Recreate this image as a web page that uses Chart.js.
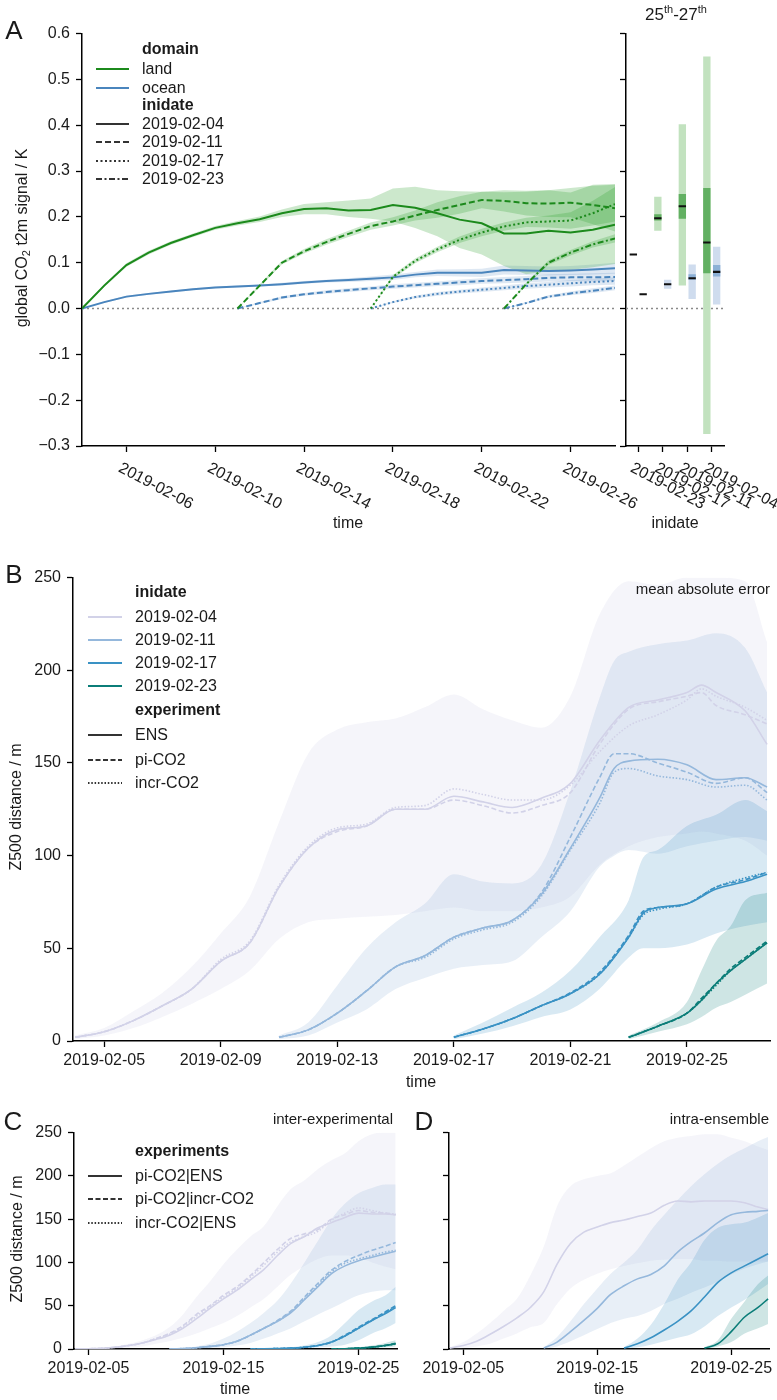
<!DOCTYPE html>
<html lang="en">
<head>
<meta charset="UTF-8">
<title>CO2 t2m signal and Z500 distance</title>
<script src="https://cdn.jsdelivr.net/npm/chart.js"></script>
<style>
    body { margin: 0; background: #fff; font-family: "Liberation Sans", Arial, sans-serif; color: #1a1a1a; }
    #page { position: relative; width: 777px; height: 1400px; overflow: hidden; }
    canvas { position: absolute; }
    .t { position: absolute; line-height: 1; white-space: nowrap; font-size: 16px; transform: translate(-50%, -50%); }
    .l { transform: translate(0, -50%); }
    .r { transform: translate(-100%, -50%); }
    .v { transform: translate(-50%, -50%) rotate(-90deg); }
    .big { font-size: 26px; }
    .small { font-size: 15px; }
    sup { font-size: 11px; vertical-align: 7px; line-height: 0; }
    sub { font-size: 11px; vertical-align: -3px; line-height: 0; }
    #legendLines { position: absolute; left: 0; top: 0; z-index: 2; }
    .t { z-index: 3; }
</style>
</head>
<body>
<div id="page">
    <canvas id="cA1" style="left:0;top:18px" width="777" height="540"></canvas>
    <canvas id="cA2" style="left:600px;top:18px" width="177" height="540"></canvas>
    <canvas id="cB" style="left:0;top:562px" width="777" height="506"></canvas>
    <canvas id="cC" style="left:0;top:1117px" width="405" height="259"></canvas>
    <canvas id="cD" style="left:400px;top:1117px" width="377" height="259"></canvas>
    <svg id="legendLines" width="777" height="1400"></svg>

    <!-- panel letters, titles and axis titles -->
    <div class="t big" style="left:14px;top:30px">A</div>
    <div class="t big" style="left:14px;top:574px">B</div>
    <div class="t big" style="left:13px;top:1121px">C</div>
    <div class="t big" style="left:424px;top:1121px">D</div>

    <div class="t" style="left:676px;top:14px;font-size:17px">25<sup>th</sup>-27<sup>th</sup></div>
    <div class="t v" style="left:22px;top:238px">global CO<sub>2</sub> t2m signal / K</div>
    <div class="t" style="left:348px;top:523px">time</div>
    <div class="t" style="left:675px;top:523px">inidate</div>

    <div class="t r small" style="left:770px;top:588px">mean absolute error</div>
    <div class="t v" style="left:16px;top:807px">Z500 distance / m</div>
    <div class="t" style="left:421px;top:1082px">time</div>

    <div class="t r small" style="left:393px;top:1118px">inter-experimental</div>
    <div class="t r small" style="left:769px;top:1118px">intra-ensemble</div>
    <div class="t v" style="left:17px;top:1239px">Z500 distance / m</div>
    <div class="t" style="left:235px;top:1389px">time</div>
    <div class="t" style="left:609px;top:1389px">time</div>
</div>

<script>
// ---------- panel A: global CO2 t2m signal (K), daily, day of Feb 2019 ----------
const inidates = ['2019-02-04', '2019-02-11', '2019-02-17', '2019-02-23'];
const yTicksA = [-0.3, -0.2, -0.1, 0.0, 0.1, 0.2, 0.3, 0.4, 0.5, 0.6];
const xTicksA = [6, 10, 14, 18, 22, 26];

const daysA04 = [4, 5, 6, 7, 8, 9, 10, 11, 12, 13, 14, 15, 16, 17, 18, 19, 20, 21, 22, 23, 24, 25, 26, 27, 28];
const landA04 = [0, 0.050, 0.095, 0.122, 0.143, 0.160, 0.176, 0.186, 0.195, 0.208, 0.217, 0.219, 0.214, 0.215, 0.226, 0.220, 0.208, 0.194, 0.186, 0.164, 0.164, 0.170, 0.166, 0.172, 0.183];
const landA04Hi = [0, 0.053, 0.099, 0.126, 0.147, 0.164, 0.180, 0.191, 0.201, 0.216, 0.228, 0.232, 0.236, 0.240, 0.262, 0.266, 0.258, 0.256, 0.255, 0.254, 0.255, 0.258, 0.253, 0.270, 0.272];
const landA04Lo = [0, 0.047, 0.091, 0.118, 0.139, 0.156, 0.172, 0.181, 0.189, 0.200, 0.206, 0.206, 0.200, 0.196, 0.190, 0.176, 0.158, 0.132, 0.118, 0.093, 0.075, 0.082, 0.084, 0.090, 0.097];
const oceanA04 = [0, 0.014, 0.026, 0.032, 0.037, 0.042, 0.046, 0.048, 0.050, 0.053, 0.057, 0.060, 0.062, 0.065, 0.068, 0.074, 0.078, 0.078, 0.078, 0.084, 0.083, 0.082, 0.083, 0.085, 0.088];
const oceanA04Hi = [0, 0.016, 0.028, 0.034, 0.039, 0.044, 0.048, 0.050, 0.052, 0.056, 0.060, 0.063, 0.066, 0.070, 0.074, 0.080, 0.085, 0.086, 0.087, 0.094, 0.093, 0.092, 0.093, 0.096, 0.100];
const oceanA04Lo = [0, 0.012, 0.024, 0.030, 0.035, 0.040, 0.044, 0.046, 0.048, 0.050, 0.054, 0.057, 0.058, 0.060, 0.062, 0.068, 0.071, 0.070, 0.069, 0.074, 0.073, 0.072, 0.073, 0.074, 0.076];

const daysA11 = [11, 12, 13, 14, 15, 16, 17, 18, 19, 20, 21, 22, 23, 24, 25, 26, 27, 28];
const landA11 = [0, 0.050, 0.100, 0.125, 0.145, 0.163, 0.180, 0.190, 0.203, 0.215, 0.226, 0.237, 0.235, 0.230, 0.229, 0.231, 0.226, 0.219];
const landA11Hi = [0, 0.053, 0.104, 0.130, 0.151, 0.170, 0.188, 0.199, 0.214, 0.232, 0.245, 0.255, 0.258, 0.257, 0.258, 0.263, 0.268, 0.270];
const landA11Lo = [0, 0.047, 0.096, 0.120, 0.139, 0.156, 0.172, 0.181, 0.192, 0.198, 0.207, 0.219, 0.212, 0.203, 0.200, 0.199, 0.184, 0.168];
const oceanA11 = [0, 0.012, 0.024, 0.031, 0.036, 0.040, 0.044, 0.048, 0.051, 0.054, 0.057, 0.060, 0.062, 0.064, 0.067, 0.068, 0.068, 0.069];
const oceanA11Hi = [0, 0.014, 0.027, 0.034, 0.040, 0.044, 0.048, 0.053, 0.056, 0.059, 0.063, 0.066, 0.069, 0.071, 0.075, 0.076, 0.077, 0.078];
const oceanA11Lo = [0, 0.010, 0.021, 0.028, 0.032, 0.036, 0.040, 0.043, 0.046, 0.049, 0.051, 0.054, 0.055, 0.057, 0.059, 0.060, 0.059, 0.060];

const daysA17 = [17, 18, 19, 20, 21, 22, 23, 24, 25, 26, 27, 28];
const landA17 = [0, 0.069, 0.104, 0.129, 0.150, 0.166, 0.179, 0.188, 0.190, 0.192, 0.208, 0.228];
const landA17Hi = [0, 0.073, 0.109, 0.135, 0.157, 0.174, 0.188, 0.198, 0.203, 0.210, 0.235, 0.265];
const landA17Lo = [0, 0.065, 0.099, 0.123, 0.143, 0.158, 0.170, 0.178, 0.177, 0.174, 0.181, 0.190];
const oceanA17 = [0, 0.014, 0.025, 0.032, 0.037, 0.041, 0.045, 0.049, 0.052, 0.055, 0.058, 0.060];
const oceanA17Hi = [0, 0.016, 0.028, 0.036, 0.041, 0.046, 0.050, 0.055, 0.058, 0.062, 0.065, 0.068];
const oceanA17Lo = [0, 0.012, 0.022, 0.028, 0.033, 0.036, 0.040, 0.043, 0.046, 0.048, 0.051, 0.052];

const daysA23 = [23, 24, 25, 26, 27, 28];
const landA23 = [0, 0.053, 0.100, 0.122, 0.140, 0.153];
const landA23Hi = [0, 0.056, 0.105, 0.128, 0.147, 0.162];
const landA23Lo = [0, 0.050, 0.095, 0.116, 0.133, 0.144];
const oceanA23 = [0, 0.012, 0.026, 0.033, 0.039, 0.045];
const oceanA23Hi = [0, 0.014, 0.029, 0.037, 0.044, 0.050];
const oceanA23Lo = [0, 0.010, 0.023, 0.029, 0.034, 0.040];

// 25th-27th summary per inidate (reversed order, as on the axis)
const summaryDates = ['2019-02-23', '2019-02-17', '2019-02-11', '2019-02-04'];
const landMed = [0.118, 0.197, 0.223, 0.144];
const landOuter = [null, [0.170, 0.244], [0.050, 0.402], [-0.274, 0.550]];
const landInner = [null, [0.192, 0.206], [0.196, 0.250], [0.077, 0.263]];
const oceanMed = [0.031, 0.053, 0.066, 0.080];
const oceanOuter = [null, [0.043, 0.063], [0.021, 0.096], [0.009, 0.135]];
const oceanInner = [null, null, [0.063, 0.075], [0.070, 0.095]];

// ---------- panel B: Z500 mean absolute error (m) ----------
const yTicksZ = [0, 50, 100, 150, 200, 250];
const xTicksB = [5, 9, 13, 17, 21, 25];
const xTicksCD = [5, 15, 25];

const daysB04 = [4, 5, 6, 7, 8, 9, 10, 11, 12, 13, 14, 15, 16, 17, 18, 19, 20, 21, 22, 23, 24, 25, 25.5, 26, 27, 27.75];
const ensB04 = [2, 5, 11, 19, 28, 43, 53, 83, 104, 114, 116, 125, 125, 132, 129, 126, 131, 139, 162, 180, 184, 188, 192, 188, 178, 160];
const piB04 = [2, 5, 11, 19, 28, 43, 53, 83, 104, 113, 116, 125, 125, 130, 127, 123, 127, 134, 160, 179, 183, 186, 188, 181, 176, 171];
const incrB04 = [2, 5, 11, 19, 28, 44, 54, 84, 105, 115, 117, 126, 127, 136, 133, 130, 130, 138, 156, 170, 176, 184, 190, 186, 180, 173];
const hiB04 = [3, 7, 16, 26, 40, 58, 78, 118, 155, 168, 172, 174, 180, 187, 179, 173, 169, 186, 230, 248, 246, 250, 250, 250, 248, 215];
const loB04 = [1, 3, 7, 13, 20, 28, 38, 55, 64, 66, 67, 68, 70, 72, 70, 70, 72, 78, 95, 105, 110, 112, 113, 112, 108, 100];

const daysB11 = [11, 12, 13, 14, 15, 16, 17, 18, 19, 20, 21, 22, 22.5, 23, 24, 25, 26, 27, 27.75];
const ensB11 = [2, 6, 15, 27, 40, 46, 56, 61, 65, 79, 104, 131, 147, 151, 152, 149, 141, 142, 137];
const piB11 = [2, 6, 15, 27, 40, 46, 56, 61, 65, 80, 110, 142, 155, 155, 150, 145, 139, 142, 134];
const incrB11 = [2, 6, 15, 27, 40, 45, 55, 60, 64, 78, 103, 128, 145, 147, 143, 141, 137, 138, 130];
const hiB11 = [3, 10, 30, 50, 64, 74, 90, 86, 85, 95, 135, 185, 205, 210, 214, 216, 220, 212, 188];
const loB11 = [1, 3, 10, 17, 28, 34, 39, 41, 43, 56, 70, 94, 100, 103, 101, 105, 108, 110, 108];

const daysB17 = [17, 18, 19, 20, 21, 22, 23, 23.5, 24, 25, 26, 27, 27.75];
const ensB17 = [2, 6.5, 12, 19, 25.5, 36, 56, 69, 72, 74, 82, 86, 90];
const piB17 = [2, 6.5, 12, 19, 26, 37, 57, 70, 72, 74, 83, 87, 91];
const incrB17 = [2, 6.5, 12, 19, 25.5, 36, 56, 68, 71, 74, 83, 88, 91];
const hiB17 = [3, 10, 18, 26, 38, 56, 76, 99, 103, 116, 122, 130, 124];
const loB17 = [1, 4, 8, 13, 17, 28, 45, 50, 50, 52, 58, 62, 64];

const daysB23 = [23, 24, 25, 25.5, 26, 26.5, 27, 27.75];
const ensB23 = [2, 8, 15, 22, 31, 38, 44, 53];
const piB23 = [2, 8, 15, 23, 31, 39, 45, 54];
const incrB23 = [2, 8, 15, 22, 30, 38, 44, 53];
const hiB23 = [3, 10, 21, 38, 54, 62, 76, 80];
const loB23 = [1, 5, 9, 13, 18, 21, 25, 31];

// ---------- panel C: inter-experimental distance (m) ----------
const daysCD04 = [4, 5, 6, 7, 8, 9, 10, 11, 12, 13, 14, 15, 16, 17, 18, 19, 20, 21, 22, 23, 24, 25, 26, 27, 27.75];
const daysCD11 = [11, 12, 13, 14, 15, 16, 17, 18, 19, 20, 21, 22, 23, 24, 25, 26, 27, 27.75];
const daysCD17 = [17, 18, 19, 20, 21, 22, 23, 24, 25, 26, 27, 27.75];
const daysCD23 = [23, 24, 25, 26, 27, 27.75];

const ensC04 = [0, 0.3, 0.8, 2, 4, 7, 11, 16, 24, 35, 47, 58, 68, 80, 92, 108, 122, 130, 140, 146, 152, 157, 156, 156, 155];
const piC04 = [0, 0.3, 0.8, 2, 4, 7, 12, 18, 27, 40, 50, 62, 72, 85, 100, 115, 128, 133, 138, 150, 155, 160, 158, 157, 155];
const incrC04 = [0, 0.3, 0.8, 2, 4, 7, 12, 17, 26, 38, 49, 60, 70, 83, 97, 112, 124, 130, 136, 149, 157, 163, 160, 157, 156];
const hiC04 = [0, 0.5, 1.2, 3, 6, 10, 16, 25, 40, 60, 78, 98, 115, 130, 142, 165, 185, 195, 208, 218, 226, 240, 248, 250, 250];
const loC04 = [0, 0.1, 0.3, 0.8, 1.5, 3, 6, 9, 13, 18, 24, 30, 38, 48, 58, 72, 86, 96, 104, 108, 108, 106, 100, 95, 92];

const ensC11 = [0, 0.5, 1.5, 3, 5, 9, 16, 24, 32, 42, 57, 72, 87, 96, 102, 106, 110, 113];
const piC11 = [0, 0.5, 1.5, 3, 5, 9, 16, 24, 33, 44, 60, 76, 91, 101, 108, 114, 119, 123];
const incrC11 = [0, 0.5, 1.5, 3, 5, 9, 16, 24, 32, 43, 58, 74, 89, 99, 104, 108, 112, 114];
const hiC11 = [0, 1, 3, 6, 12, 20, 30, 42, 56, 76, 100, 125, 150, 168, 180, 186, 190, 190];
const loC11 = [0, 0.2, 0.5, 1, 2, 4, 7, 12, 18, 24, 32, 40, 47, 55, 62, 66, 68, 68];

const ensC17 = [0, 0.2, 0.5, 1, 2, 4, 8, 15, 24, 33, 41, 48];
const piC17 = [0, 0.2, 0.5, 1, 2, 4, 8, 16, 25, 34, 43, 50];
const incrC17 = [0, 0.2, 0.5, 1, 2, 4, 8, 15, 24, 33, 42, 49];
const hiC17 = [0, 0.5, 1, 2, 4, 8, 16, 30, 45, 55, 62, 72];
const loC17 = [0, 0, 0.2, 0.5, 1, 2, 3, 5, 10, 18, 24, 30];

const ensC23 = [0, 0.3, 1, 2, 4, 6];
const piC23 = [0, 0.3, 1, 2.2, 4.2, 6.5];
const incrC23 = [0, 0.3, 1, 2, 4, 6];
const hiC23 = [0, 0.6, 2, 4, 7, 10];
const loC23 = [0, 0.1, 0.4, 1, 2, 3];

// ---------- panel D: intra-ensemble distance (m) ----------
const lineD04 = [1, 4, 9, 17, 26, 36, 48, 66, 98, 122, 135, 141, 146, 149, 153, 157, 166, 171, 170, 171, 171, 171, 169, 164, 161];
const hiD04 = [2, 8, 18, 30, 44, 58, 85, 118, 165, 188, 196, 200, 203, 212, 222, 232, 240, 244, 246, 248, 248, 244, 240, 234, 230];
const loD04 = [0, 1, 3, 6, 12, 18, 25, 30, 52, 70, 80, 87, 92, 96, 99, 102, 103, 104, 104, 102, 102, 101, 101, 101, 101];
const lineD11 = [1, 8, 20, 33, 47, 63, 73, 81, 86, 96, 112, 124, 134, 146, 155, 158, 159, 160];
const hiD11 = [2, 14, 32, 52, 70, 87, 100, 115, 137, 155, 172, 188, 202, 214, 224, 232, 240, 245];
const loD11 = [0, 3, 9, 16, 23, 30, 35, 38, 44, 52, 58, 65, 71, 78, 86, 93, 98, 101];
const lineD17 = [1, 6, 13, 22, 32, 44, 60, 77, 88, 96, 104, 110];
const hiD17 = [2, 12, 28, 52, 80, 100, 126, 140, 144, 146, 152, 157];
const loD17 = [0, 2, 5, 9, 13, 17, 26, 38, 48, 57, 67, 75];
const lineD23 = [1, 6, 20, 37, 48, 58];
const hiD23 = [2, 10, 35, 55, 75, 85];
const loD23 = [0, 3, 8, 18, 24, 29];

// ---------- styles ----------
const LAND = '#1c8a1c', OCEAN = '#4a85bd';
const LAND_BAND = 'rgba(40,160,40,0.24)', OCEAN_BAND = 'rgba(70,130,190,0.18)';
const INI_COLORS = ['#d2d2e8', '#95b8dc', '#3a92c4', '#0b7d78'];
const INI_BANDS = ['rgba(205,205,232,0.2)', 'rgba(140,175,215,0.2)', 'rgba(58,146,196,0.2)', 'rgba(11,125,120,0.2)'];
const DASH_A = [[], [6, 3], [2, 2.5], [6, 2.5, 2, 2.5]];
const DASH_Z = [[], [5, 2.5], [1.5, 1.8]];

Chart.defaults.font.family = '"Liberation Sans", Arial, sans-serif';
Chart.defaults.font.size = 16;
Chart.defaults.color = '#1a1a1a';
Chart.defaults.animation = false;
Chart.defaults.responsive = false;
Chart.defaults.devicePixelRatio = 1;
Chart.defaults.events = [];
Chart.defaults.plugins.legend.display = false;
Chart.defaults.plugins.tooltip.enabled = false;
Chart.defaults.elements.point.radius = 0;

const xy = (days, vals) => days.map((d, i) => ({x: d, y: vals[i]}));
const dateLabel = v => '2019-02-' + String(v).padStart(2, '0');

function lineSet(days, vals, color, dash, width, order, smooth) {
    return {
        data: xy(days, vals), borderColor: color, borderDash: dash, borderWidth: width,
        fill: false, order: order, tension: 0,
        cubicInterpolationMode: smooth ? 'monotone' : 'default'
    };
}

function bandSets(days, lo, hi, color, order, smooth) {
    const mode = smooth ? 'monotone' : 'default';
    return [
        {data: xy(days, hi), borderColor: 'rgba(0,0,0,0)', borderWidth: 1, backgroundColor: color,
         fill: '+1', order: order, tension: 0, cubicInterpolationMode: mode},
        {data: xy(days, lo), borderColor: 'rgba(0,0,0,0)', borderWidth: 1,
         fill: false, order: order, tension: 0, cubicInterpolationMode: mode}
    ];
}

const gridStyle = {drawOnChartArea: false, drawTicks: true, tickLength: 6, tickColor: '#000', tickWidth: 1.3, color: '#000'};
const borderStyle = {display: true, color: '#000', width: 1.5};

function yAxis(min, max, ticks, width, fmt, hidden) {
    return {
        type: 'linear', min: min, max: max,
        afterBuildTicks: s => { s.ticks = ticks.map(v => ({value: v})); },
        afterFit: s => { s.width = width; },
        ticks: {callback: fmt, padding: 6, color: hidden ? 'rgba(0,0,0,0)' : '#1a1a1a'},
        grid: gridStyle, border: borderStyle
    };
}

// slanted: labels are left empty here and drawn by the slantLabels plugin
function xDays(min, max, ticks, height, slanted) {
    return {
        type: 'linear', min: min, max: max,
        afterBuildTicks: s => { s.ticks = ticks.map(v => ({value: v})); },
        afterFit: s => { s.height = height; },
        ticks: {callback: slanted ? () => '' : dateLabel, maxRotation: 0, autoSkip: false, padding: 4},
        grid: gridStyle, border: borderStyle
    };
}

const fmtK = v => (v < -1e-9 ? '\u2212' : '') + Math.abs(v).toFixed(1);
const fmtInt = v => String(v);

// dotted zero line across the plot area
const zeroLine = {
    id: 'zeroLine',
    beforeDatasetsDraw(chart) {
        const y = chart.scales.y.getPixelForValue(0);
        const {left, right} = chart.chartArea;
        const ctx = chart.ctx;
        ctx.save();
        ctx.setLineDash([2, 3]);
        ctx.strokeStyle = '#8a8a8a';
        ctx.lineWidth = 1.5;
        ctx.beginPath();
        ctx.moveTo(left, y);
        ctx.lineTo(right, y);
        ctx.stroke();
        ctx.restore();
    }
};

// slanted date labels under the x axis (panel A)
const slantLabels = {
    id: 'slantLabels',
    afterDraw(chart, args, opts) {
        const sc = chart.scales.x, ctx = chart.ctx;
        ctx.save();
        ctx.font = '16px "Liberation Sans", Arial, sans-serif';
        ctx.fillStyle = '#1a1a1a';
        ctx.textAlign = 'left';
        ctx.textBaseline = 'top';
        sc.ticks.forEach((t, i) => {
            ctx.save();
            ctx.translate(sc.getPixelForTick(i) - 3, sc.top + 14);
            ctx.rotate(28 * Math.PI / 180);
            ctx.fillText(opts.text(t.value), 0, 0);
            ctx.restore();
        });
        ctx.restore();
    }
};

// ---------- A: time series ----------
new Chart(document.getElementById('cA1'), {
    type: 'line',
    data: {
        datasets: [
            lineSet(daysA04, landA04, LAND, DASH_A[0], 2, 0),
            lineSet(daysA11, landA11, LAND, DASH_A[1], 2, 0),
            lineSet(daysA17, landA17, LAND, DASH_A[2], 2, 0),
            lineSet(daysA23, landA23, LAND, DASH_A[3], 2, 0),
            lineSet(daysA04, oceanA04, OCEAN, DASH_A[0], 2, 0),
            lineSet(daysA11, oceanA11, OCEAN, DASH_A[1], 2, 0),
            lineSet(daysA17, oceanA17, OCEAN, DASH_A[2], 2, 0),
            lineSet(daysA23, oceanA23, OCEAN, DASH_A[3], 2, 0),
            ...bandSets(daysA04, landA04Lo, landA04Hi, LAND_BAND, 1),
            ...bandSets(daysA11, landA11Lo, landA11Hi, LAND_BAND, 1),
            ...bandSets(daysA17, landA17Lo, landA17Hi, LAND_BAND, 1),
            ...bandSets(daysA23, landA23Lo, landA23Hi, LAND_BAND, 1),
            ...bandSets(daysA04, oceanA04Lo, oceanA04Hi, OCEAN_BAND, 1),
            ...bandSets(daysA11, oceanA11Lo, oceanA11Hi, OCEAN_BAND, 1),
            ...bandSets(daysA17, oceanA17Lo, oceanA17Hi, OCEAN_BAND, 1),
            ...bandSets(daysA23, oceanA23Lo, oceanA23Hi, OCEAN_BAND, 1)
        ]
    },
    options: {
        layout: {padding: {top: 11, right: 162, left: 0, bottom: 0}},
        plugins: {slantLabels: {text: dateLabel}},
        scales: {
            x: xDays(4, 28, xTicksA, 112, true),
            y: yAxis(-0.3, 0.6, yTicksA, 82, fmtK)
        }
    },
    plugins: [zeroLine, slantLabels]
});

// ---------- A: 25th-27th summary bars ----------
const medBar = m => [m - 0.0022, m + 0.0022];
new Chart(document.getElementById('cA2'), {
    type: 'bar',
    data: {
        labels: summaryDates,
        datasets: [
            {data: landMed.map(medBar), backgroundColor: '#111', stack: 'land', order: 0},
            {data: oceanMed.map(medBar), backgroundColor: '#111', stack: 'ocean', order: 0},
            {data: landInner, backgroundColor: '#62b062', stack: 'land', order: 1},
            {data: oceanInner, backgroundColor: '#8cb0d6', stack: 'ocean', order: 1},
            {data: landOuter, backgroundColor: '#c2e2bf', stack: 'land', order: 2},
            {data: oceanOuter, backgroundColor: '#cfdcee', stack: 'ocean', order: 2}
        ]
    },
    options: {
        layout: {padding: {top: 11, right: 53, left: 0, bottom: 0}},
        datasets: {bar: {barPercentage: 0.75, categoryPercentage: 0.8}},
        plugins: {slantLabels: {text: i => summaryDates[i]}},
        scales: {
            x: {
                stacked: true, offset: true,
                afterFit: s => { s.height = 112; },
                ticks: {callback: () => '', autoSkip: false, maxRotation: 0},
                grid: Object.assign({}, gridStyle, {offset: false}), border: borderStyle
            },
            y: Object.assign(yAxis(-0.3, 0.6, yTicksA, 26, fmtK, true), {stacked: false})
        }
    },
    plugins: [zeroLine, slantLabels]
});

// ---------- B: mean absolute error ----------
new Chart(document.getElementById('cB'), {
    type: 'line',
    data: {
        datasets: [
            lineSet(daysB23, ensB23, INI_COLORS[3], DASH_Z[0], 1.6, 1, true),
            lineSet(daysB23, piB23, INI_COLORS[3], DASH_Z[1], 1.6, 1, true),
            lineSet(daysB23, incrB23, INI_COLORS[3], DASH_Z[2], 1.6, 1, true),
            lineSet(daysB17, ensB17, INI_COLORS[2], DASH_Z[0], 1.6, 2, true),
            lineSet(daysB17, piB17, INI_COLORS[2], DASH_Z[1], 1.6, 2, true),
            lineSet(daysB17, incrB17, INI_COLORS[2], DASH_Z[2], 1.6, 2, true),
            lineSet(daysB11, ensB11, INI_COLORS[1], DASH_Z[0], 1.6, 3, true),
            lineSet(daysB11, piB11, INI_COLORS[1], DASH_Z[1], 1.6, 3, true),
            lineSet(daysB11, incrB11, INI_COLORS[1], DASH_Z[2], 1.6, 3, true),
            lineSet(daysB04, ensB04, INI_COLORS[0], DASH_Z[0], 1.6, 4, true),
            lineSet(daysB04, piB04, INI_COLORS[0], DASH_Z[1], 1.6, 4, true),
            lineSet(daysB04, incrB04, INI_COLORS[0], DASH_Z[2], 1.6, 4, true),
            ...bandSets(daysB23, loB23, hiB23, INI_BANDS[3], 11, true),
            ...bandSets(daysB17, loB17, hiB17, INI_BANDS[2], 12, true),
            ...bandSets(daysB11, loB11, hiB11, INI_BANDS[1], 13, true),
            ...bandSets(daysB04, loB04, hiB04, INI_BANDS[0], 14, true)
        ]
    },
    options: {
        layout: {padding: {top: 11, right: 7, left: 0, bottom: 0}},
        scales: {
            x: xDays(3.93, 27.85, xTicksB, 27),
            y: yAxis(0, 250, yTicksZ, 73, fmtInt)
        }
    }
});

// ---------- C: inter-experimental ----------
new Chart(document.getElementById('cC'), {
    type: 'line',
    data: {
        datasets: [
            lineSet(daysCD23, ensC23, INI_COLORS[3], DASH_Z[0], 1.6, 1, true),
            lineSet(daysCD23, piC23, INI_COLORS[3], DASH_Z[1], 1.6, 1, true),
            lineSet(daysCD23, incrC23, INI_COLORS[3], DASH_Z[2], 1.6, 1, true),
            lineSet(daysCD17, ensC17, INI_COLORS[2], DASH_Z[0], 1.6, 2, true),
            lineSet(daysCD17, piC17, INI_COLORS[2], DASH_Z[1], 1.6, 2, true),
            lineSet(daysCD17, incrC17, INI_COLORS[2], DASH_Z[2], 1.6, 2, true),
            lineSet(daysCD11, ensC11, INI_COLORS[1], DASH_Z[0], 1.6, 3, true),
            lineSet(daysCD11, piC11, INI_COLORS[1], DASH_Z[1], 1.6, 3, true),
            lineSet(daysCD11, incrC11, INI_COLORS[1], DASH_Z[2], 1.6, 3, true),
            lineSet(daysCD04, ensC04, INI_COLORS[0], DASH_Z[0], 1.6, 4, true),
            lineSet(daysCD04, piC04, INI_COLORS[0], DASH_Z[1], 1.6, 4, true),
            lineSet(daysCD04, incrC04, INI_COLORS[0], DASH_Z[2], 1.6, 4, true),
            ...bandSets(daysCD23, loC23, hiC23, INI_BANDS[3], 11, true),
            ...bandSets(daysCD17, loC17, hiC17, INI_BANDS[2], 12, true),
            ...bandSets(daysCD11, loC11, hiC11, INI_BANDS[1], 13, true),
            ...bandSets(daysCD04, loC04, hiC04, INI_BANDS[0], 14, true)
        ]
    },
    options: {
        layout: {padding: {top: 11, right: 8, left: 0, bottom: 0}},
        scales: {
            x: xDays(3.93, 27.85, xTicksCD, 27),
            y: yAxis(0, 250, yTicksZ, 74, fmtInt)
        }
    }
});

// ---------- D: intra-ensemble ----------
new Chart(document.getElementById('cD'), {
    type: 'line',
    data: {
        datasets: [
            lineSet(daysCD23, lineD23, INI_COLORS[3], DASH_Z[0], 1.6, 1, true),
            lineSet(daysCD17, lineD17, INI_COLORS[2], DASH_Z[0], 1.6, 2, true),
            lineSet(daysCD11, lineD11, INI_COLORS[1], DASH_Z[0], 1.6, 3, true),
            lineSet(daysCD04, lineD04, INI_COLORS[0], DASH_Z[0], 1.6, 4, true),
            ...bandSets(daysCD23, loD23, hiD23, INI_BANDS[3], 11, true),
            ...bandSets(daysCD17, loD17, hiD17, INI_BANDS[2], 12, true),
            ...bandSets(daysCD11, loD11, hiD11, INI_BANDS[1], 13, true),
            ...bandSets(daysCD04, loD04, hiD04, INI_BANDS[0], 14, true)
        ]
    },
    options: {
        layout: {padding: {top: 11, right: 7, left: 0, bottom: 0}},
        scales: {
            x: xDays(3.93, 27.85, xTicksCD, 27),
            y: yAxis(0, 250, yTicksZ, 49, fmtInt, true)
        }
    }
});

// ---------- legends (html text + svg sample lines) ----------
function drawLegend(items, x1, x2, tx) {
    const svg = document.getElementById('legendLines');
    const page = document.getElementById('page');
    items.forEach(it => {
        if (it.color) {
            const ln = document.createElementNS('http://www.w3.org/2000/svg', 'line');
            ln.setAttribute('x1', x1);
            ln.setAttribute('x2', x2);
            ln.setAttribute('y1', it.y);
            ln.setAttribute('y2', it.y);
            ln.setAttribute('stroke', it.color);
            ln.setAttribute('stroke-width', 2);
            if (it.dash.length) ln.setAttribute('stroke-dasharray', it.dash.join(' '));
            svg.appendChild(ln);
        }
        const d = document.createElement('div');
        d.className = 't l';
        d.style.left = tx + 'px';
        d.style.top = it.y + 'px';
        if (!it.color) d.style.fontWeight = 'bold';
        d.textContent = it.text;
        page.appendChild(d);
    });
}

drawLegend([
    {text: 'domain', y: 49},
    {text: 'land', y: 69, color: LAND, dash: []},
    {text: 'ocean', y: 88, color: OCEAN, dash: []},
    {text: 'inidate', y: 105},
    {text: inidates[0], y: 124, color: '#333', dash: DASH_A[0]},
    {text: inidates[1], y: 142, color: '#333', dash: DASH_A[1]},
    {text: inidates[2], y: 161, color: '#333', dash: DASH_A[2]},
    {text: inidates[3], y: 179, color: '#333', dash: DASH_A[3]}
], 96, 129, 142);

drawLegend([
    {text: 'inidate', y: 592},
    {text: inidates[0], y: 617, color: INI_COLORS[0], dash: []},
    {text: inidates[1], y: 640, color: INI_COLORS[1], dash: []},
    {text: inidates[2], y: 663, color: INI_COLORS[2], dash: []},
    {text: inidates[3], y: 686, color: INI_COLORS[3], dash: []},
    {text: 'experiment', y: 710},
    {text: 'ENS', y: 735, color: '#333', dash: DASH_Z[0]},
    {text: 'pi-CO2', y: 760, color: '#333', dash: DASH_Z[1]},
    {text: 'incr-CO2', y: 783, color: '#333', dash: DASH_Z[2]}
], 88, 122, 135);

drawLegend([
    {text: 'experiments', y: 1151},
    {text: 'pi-CO2|ENS', y: 1176, color: '#333', dash: DASH_Z[0]},
    {text: 'pi-CO2|incr-CO2', y: 1199, color: '#333', dash: DASH_Z[1]},
    {text: 'incr-CO2|ENS', y: 1223, color: '#333', dash: DASH_Z[2]}
], 88, 122, 135);
</script>
</body>
</html>
